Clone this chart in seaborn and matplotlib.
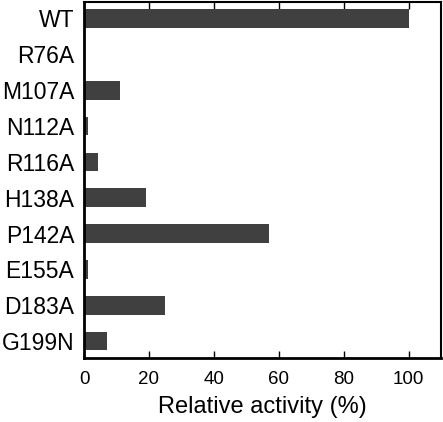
import matplotlib
matplotlib.use("Agg")
import matplotlib.pyplot as plt
import seaborn as sns
import pandas as pd

mutants = ["WT", "R76A", "M107A", "N112A", "R116A", "H138A", "P142A", "E155A", "D183A", "G199N"]
activity = [100, 0, 11, 1.3, 4.4, 19, 57, 1.1, 25, 7.2]
xticks = [0, 20, 40, 60, 80, 100]

sns.set_theme(style="white")
plt.rcParams["font.family"] = ["Liberation Sans", "DejaVu Sans"]

df = pd.DataFrame({"mutant": mutants, "activity": activity})

fig = plt.figure(figsize=(4.43, 4.22), dpi=100)
ax = fig.add_axes([84/443, 1 - 358/422, (441-84)/443, (358-2)/422])
sns.barplot(data=df, x="activity", y="mutant", orient="h", color="#404040",
            saturation=1, width=0.52, linewidth=0, ax=ax)
ax.set_xlim(0, 110)
ax.set_ylim(9.47, -0.46)
ax.set_xticks(xticks)
ax.set_xlabel("Relative activity (%)", fontsize=17, labelpad=6, color="black")
ax.set_ylabel("")
ax.tick_params(axis="x", direction="in", top=True, bottom=True, length=5, width=1,
               labelsize=13.5, pad=9, color="black")
ax.tick_params(axis="y", length=0, labelsize=16.5, pad=7)
for s in ax.spines.values():
    s.set_visible(True)
    s.set_color("black")
    s.set_linewidth(1.5)
ax.spines["left"].set_linewidth(2)
ax.spines["bottom"].set_linewidth(2)
ax.tick_params(colors="black", which="both")
fig.savefig("out.png", dpi=100)
